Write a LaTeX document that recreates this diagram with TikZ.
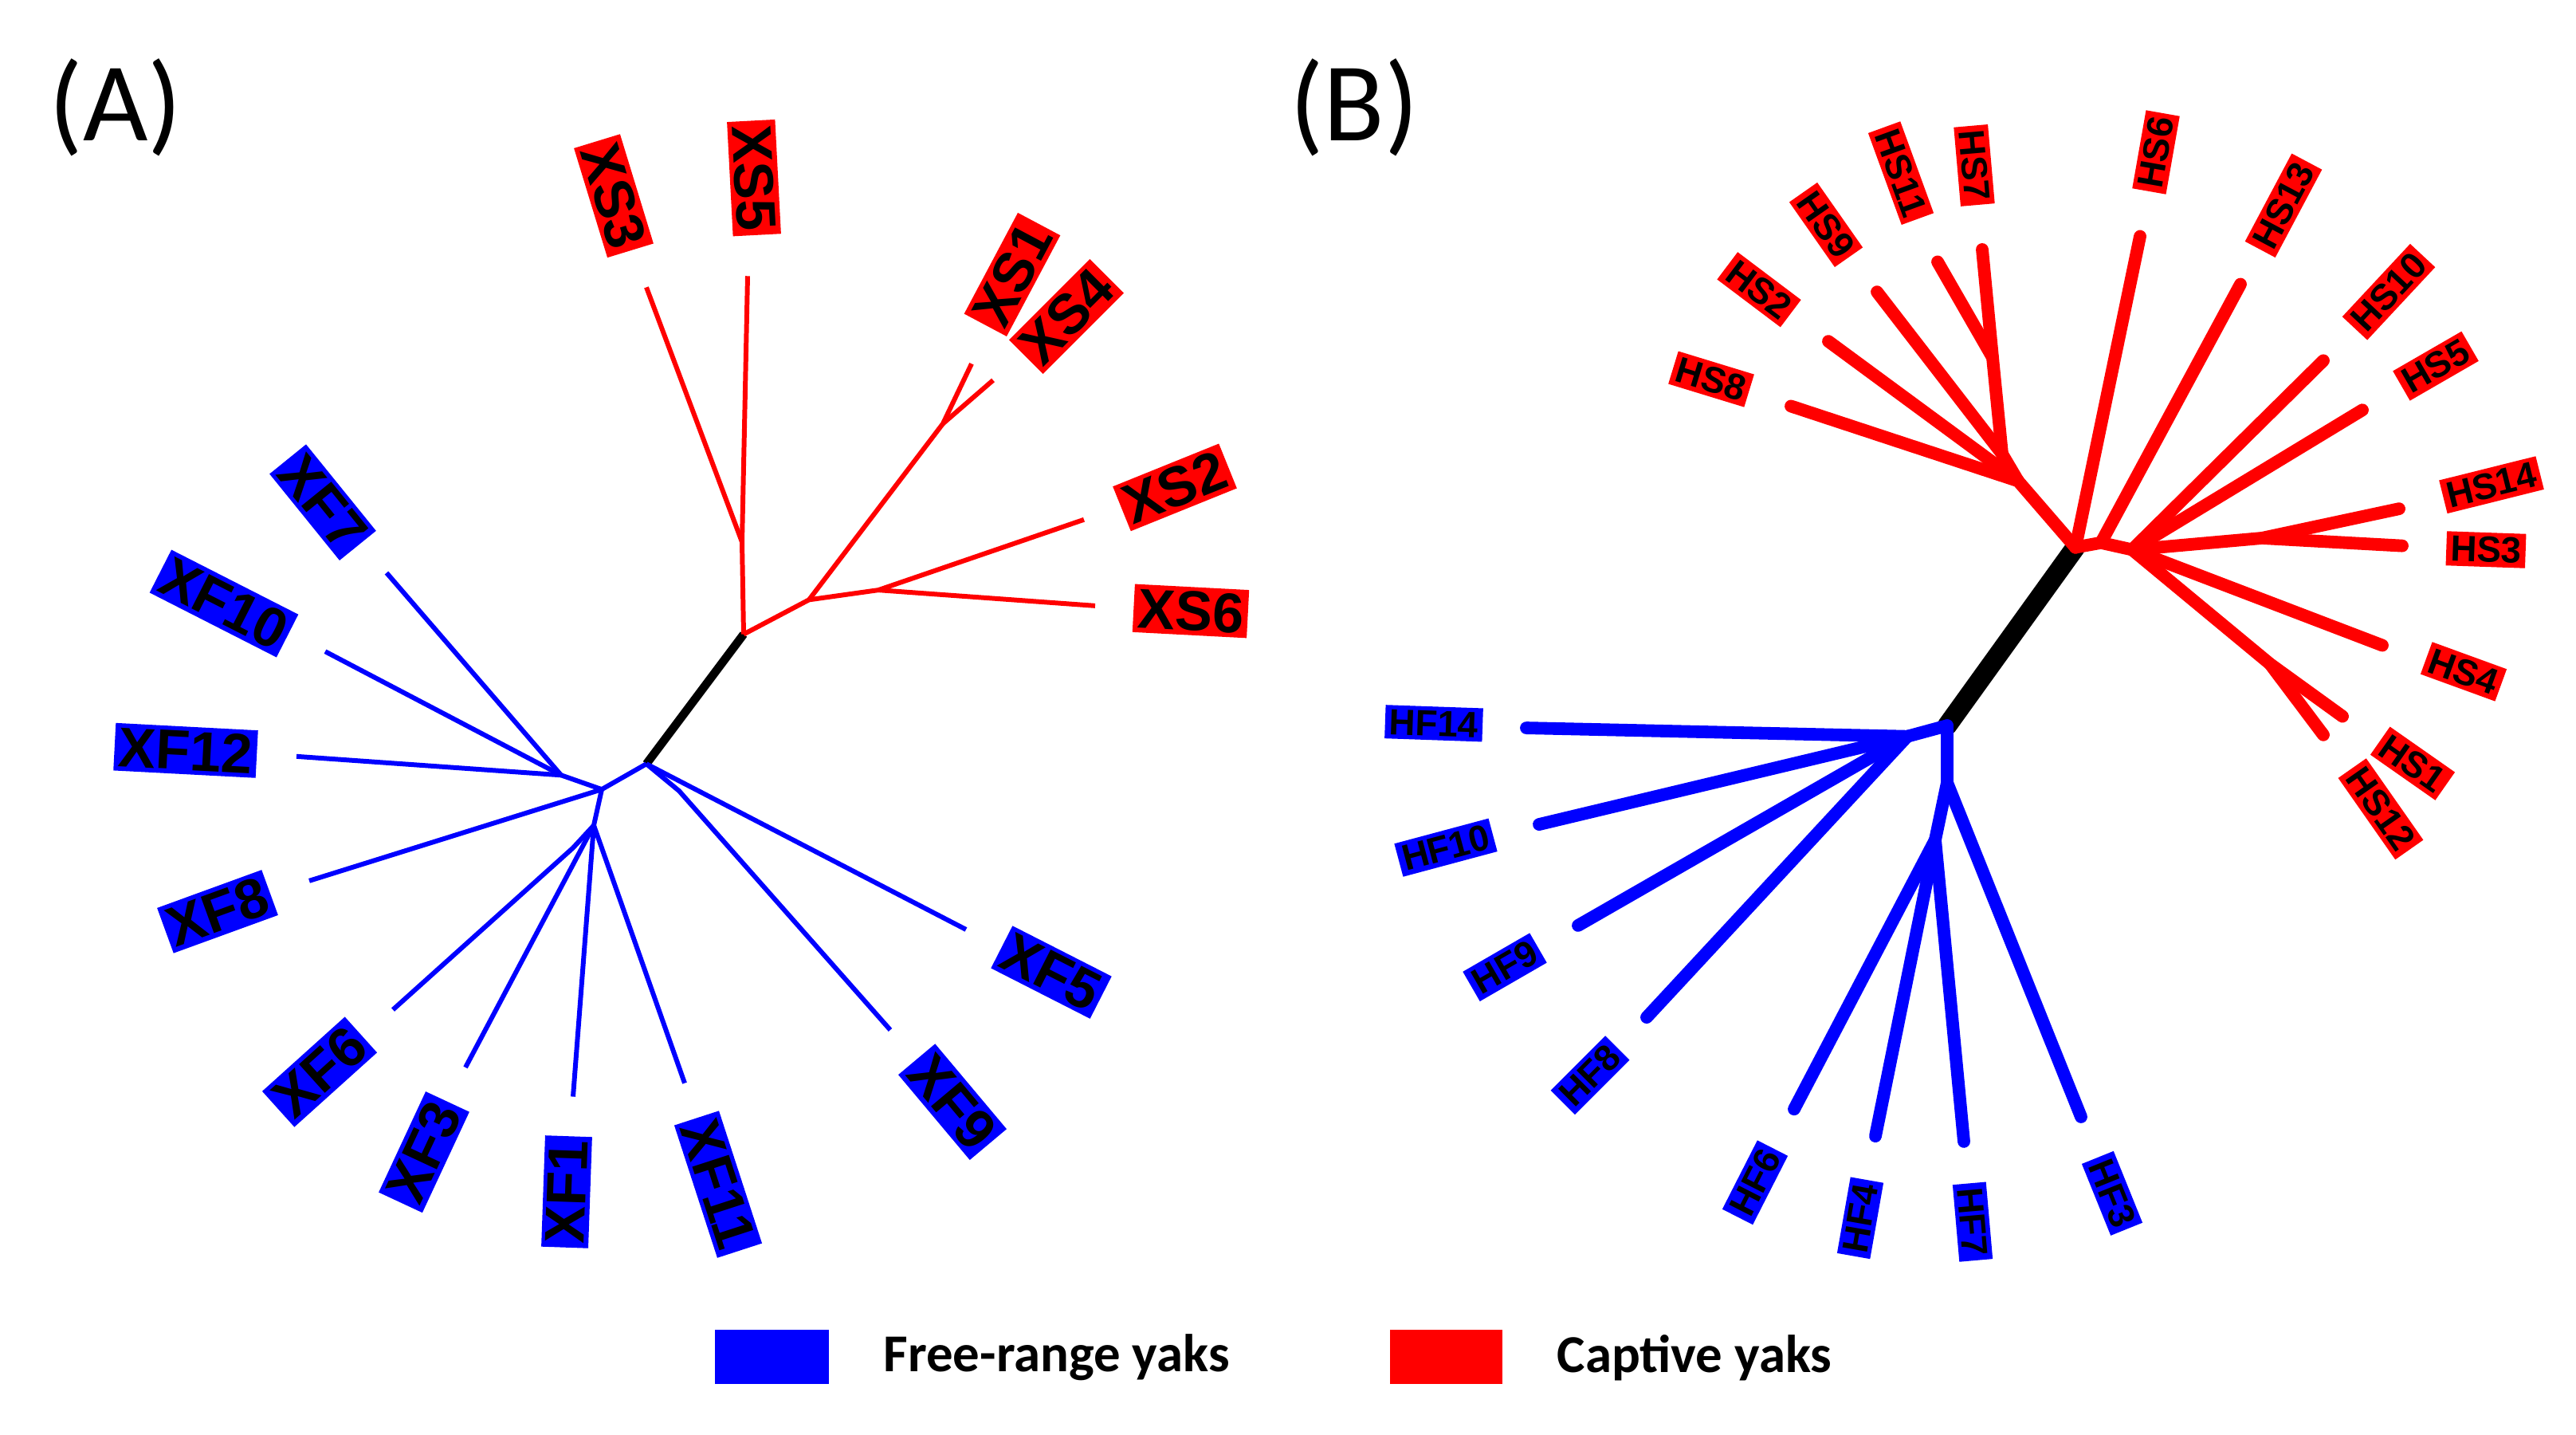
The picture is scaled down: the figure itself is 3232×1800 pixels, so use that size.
\documentclass[tikz,border=0pt]{standalone}
\usepackage{fontspec}
\setmainfont{Liberation Sans}
\newfontfamily\carl{Carlito}
\definecolor{pr}{RGB}{255,0,0}
\definecolor{pb}{RGB}{0,0,255}
\begin{document}
\begin{tikzpicture}[x=0.01cm,y=-0.01cm,
 la/.style={fill=#1,text=black,inner sep=1.5pt,font=\fontsize{20}{20}\selectfont\bfseries},
 lb/.style={fill=#1,text=black,inner sep=1.5pt,font=\fontsize{13}{13}\selectfont\bfseries},
 ra/.style={draw=pr,line width=1.7pt},
 ba/.style={draw=pb,line width=1.7pt},
 ka/.style={draw=black,line width=3pt},
 rb/.style={draw=pr,line width=4.5pt,line cap=round},
 bb/.style={draw=pb,line width=4.5pt,line cap=round},
 kb/.style={draw=black,line width=7pt,line cap=round}]
\useasboundingbox (0,0) rectangle (3232,1800);
\node[font=\carl\fontsize{40}{40}\selectfont] (tA) at (145,135) {(A)};
\node[font=\carl\fontsize{40}{40}\selectfont] (tB) at (1699,135) {(B)};
% ---------- Tree A ----------
\begin{scope}[yshift=-0.06cm,yscale=0.94]
\coordinate (AR) at (933,840); \coordinate (AB) at (811,1013);
\coordinate (Ra) at (931,717); \coordinate (Rb) at (1015,794);
\coordinate (Rc) at (1183,559); \coordinate (Rd) at (1102,781);
\coordinate (eXS3) at (811,377); \coordinate (eXS5) at (938,362);
\coordinate (eXS1) at (1219,479); \coordinate (eXS4) at (1246,501);
\coordinate (eXS2) at (1360,687); \coordinate (eXS6) at (1374,802);
\draw[ka] (AR) -- (AB);
\draw[ra] (AR) -- (Ra) -- (eXS3); \draw[ra] (Ra) -- (eXS5);
\draw[ra] (AR) -- (Rb) -- (Rc) -- (eXS1); \draw[ra] (Rc) -- (eXS4);
\draw[ra] (Rb) -- (Rd) -- (eXS2); \draw[ra] (Rd) -- (eXS6);
\coordinate (Ba) at (755,1047); \coordinate (Bb) at (704,1028);
\coordinate (Bc) at (745,1095); \coordinate (Bd) at (719,1125);
\coordinate (Be) at (852,1049);
\coordinate (eXF7) at (485,758); \coordinate (eXF10) at (408,863);
\coordinate (eXF12) at (372,1003); \coordinate (eXF8) at (388,1169);
\coordinate (eXF6) at (493,1341); \coordinate (eXF3) at (584,1418);
\coordinate (eXF1) at (719,1457); \coordinate (eXF11) at (859,1439);
\coordinate (eXF5) at (1212,1234); \coordinate (eXF9) at (1117,1368);
\draw[ba] (AB) -- (Ba) -- (Bb) -- (eXF7); \draw[ba] (Bb) -- (eXF10); \draw[ba] (Bb) -- (eXF12);
\draw[ba] (Ba) -- (eXF8);
\draw[ba] (Ba) -- (Bc) -- (Bd) -- (eXF6); \draw[ba] (Bc) -- (eXF3);
\draw[ba] (Bc) -- (eXF1); \draw[ba] (Bc) -- (eXF11);
\draw[ba] (AB) -- (eXF5); \draw[ba] (AB) -- (Be) -- (eXF9);
\node[la=pr,rotate=-73] (XS3) at (770,255) {XS3};
\node[la=pr,rotate=-87] (XS5) at (946,231) {XS5};
\node[la=pr,rotate=62] (XS1) at (1270,360) {XS1};
\node[la=pr,rotate=45] (XS4) at (1338,416) {XS4};
\node[la=pr,rotate=22] (XS2) at (1474,644) {XS2};
\node[la=pr,rotate=-3] (XS6) at (1494,809) {XS6};
\node[la=pb,rotate=-51] (XF7) at (405,664) {XF7};
\node[la=pb,rotate=-27] (XF10) at (281,799) {XF10};
\node[la=pb,rotate=-3] (XF12) at (233,995) {XF12};
\node[la=pb,rotate=20] (XF8) at (273,1210) {XF8};
\node[la=pb,rotate=42] (XF6) at (401,1424) {XF6};
\node[la=pb,rotate=65] (XF3) at (532,1531) {XF3};
\node[la=pb,rotate=88] (XF1) at (711,1584) {XF1};
\node[la=pb,rotate=-72] (XF11) at (901,1574) {XF11};
\node[la=pb,rotate=-50] (XF9) at (1195,1464) {XF9};
\node[la=pb,rotate=-27] (XF5) at (1319,1291) {XF5};
\end{scope}
% ---------- Tree B ----------
\begin{scope}[yshift=-0.032cm,yscale=0.968]
\coordinate (BR) at (2604,706); \coordinate (BB) at (2443,937);
\coordinate (Sl) at (2532,620); \coordinate (Sm) at (2512,585);
\coordinate (Sn) at (2500,460);
\coordinate (Sq) at (2636,700); \coordinate (Sr) at (2675,709);
\coordinate (Ss) at (2838,694); \coordinate (St) at (2848,857);
\coordinate (eHS8) at (2247,523); \coordinate (eHS2) at (2294,439);
\coordinate (eHS9) at (2355,375); \coordinate (eHS11) at (2431,336);
\coordinate (eHS7) at (2487,320); \coordinate (eHS6) at (2685,303);
\coordinate (eHS13) at (2811,365); \coordinate (eHS10) at (2915,464);
\coordinate (eHS5) at (2964,528); \coordinate (eHS14) at (3010,656);
\coordinate (eHS3) at (3014,704); \coordinate (eHS4) at (2989,833);
\coordinate (eHS1) at (2939,925); \coordinate (eHS12) at (2915,949);
\draw[kb] (BR) -- (BB);
\draw[rb] (BR) -- (Sl) -- (eHS8); \draw[rb] (Sl) -- (eHS2);
\draw[rb] (Sl) -- (Sm) -- (eHS9); \draw[rb] (Sm) -- (Sn) -- (eHS11); \draw[rb] (Sn) -- (eHS7);
\draw[rb] (BR) -- (eHS6);
\draw[rb] (BR) -- (Sq) -- (eHS13); \draw[rb] (Sq) -- (Sr);
\draw[rb] (Sr) -- (eHS10); \draw[rb] (Sr) -- (eHS5);
\draw[rb] (Sr) -- (Ss) -- (eHS14); \draw[rb] (Ss) -- (eHS3);
\draw[rb] (Sr) -- (eHS4); \draw[rb] (Sr) -- (St) -- (eHS1); \draw[rb] (St) -- (eHS12);
\coordinate (Ca) at (2393,951); \coordinate (Cb) at (2443,1011); \coordinate (Cc) at (2428,1085);
\coordinate (eHF14) at (1915,940); \coordinate (eHF10) at (1931,1065);
\coordinate (eHF9) at (1980,1196); \coordinate (eHF8) at (2066,1315);
\coordinate (eHF6) at (2251,1434); \coordinate (eHF4) at (2353,1469);
\coordinate (eHF7) at (2464,1476); \coordinate (eHF3) at (2611,1444);
\draw[bb] (BB) -- (Ca) -- (eHF14); \draw[bb] (Ca) -- (eHF10);
\draw[bb] (Ca) -- (eHF9); \draw[bb] (Ca) -- (eHF8);
\draw[bb] (BB) -- (Cb) -- (Cc) -- (eHF6); \draw[bb] (Cc) -- (eHF4);
\draw[bb] (Cc) -- (eHF7); \draw[bb] (Cb) -- (eHF3);
\node[lb=pr,rotate=-17] (HS8) at (2147,488) {HS8};
\node[lb=pr,rotate=-37] (HS2) at (2207,372) {HS2};
\node[lb=pr,rotate=-55] (HS9) at (2291,288) {HS9};
\node[lb=pr,rotate=-70] (HS11) at (2385,221) {HS11};
\node[lb=pr,rotate=-85] (HS7) at (2477,211) {HS7};
\node[lb=pr,rotate=80] (HS6) at (2705,194) {HS6};
\node[lb=pr,rotate=62] (HS13) at (2865,263) {HS13};
\node[lb=pr,rotate=47] (HS10) at (2997,375) {HS10};
\node[lb=pr,rotate=30] (HS5) at (3056,471) {HS5};
\node[lb=pr,rotate=14] (HS14) at (3126,625) {HS14};
\node[lb=pr,rotate=-2] (HS3) at (3119,709) {HS3};
\node[lb=pr,rotate=-20] (HS4) at (3091,867) {HS4};
\node[lb=pr,rotate=-35] (HS1) at (3027,986) {HS1};
\node[lb=pr,rotate=-55] (HS12) at (2987,1045) {HS12};
\node[lb=pb,rotate=-2] (HF14) at (1799,934) {HF14};
\node[lb=pb,rotate=15] (HF10) at (1814,1095) {HF10};
\node[lb=pb,rotate=30] (HF9) at (1888,1250) {HF9};
\node[lb=pb,rotate=45] (HF8) at (1995,1390) {HF8};
\node[lb=pb,rotate=63] (HF6) at (2202,1529) {HF6};
\node[lb=pb,rotate=80] (HF4) at (2334,1575) {HF4};
\node[lb=pb,rotate=-85] (HF7) at (2475,1580) {HF7};
\node[lb=pb,rotate=-68] (HF3) at (2650,1543) {HF3};
\end{scope}
% ---------- Legend ----------
\fill[pb] (897,1668) rectangle (1040,1736);
\fill[pr] (1744,1668) rectangle (1885,1736);
\node[anchor=west,inner sep=0,font=\carl\bfseries\fontsize{19}{19}\selectfont] (L1) at (1108,1703) {Free-range yaks};
\node[anchor=west,inner sep=0,font=\carl\bfseries\fontsize{19}{19}\selectfont] (L2) at (1953,1703) {Captive yaks};
\end{tikzpicture}
\end{document}
